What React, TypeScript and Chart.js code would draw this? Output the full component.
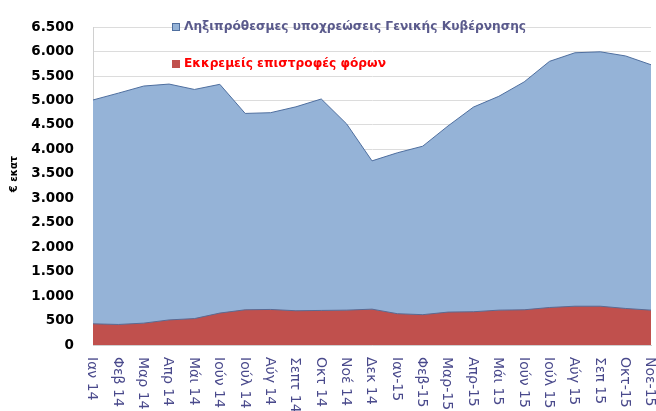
import React, { useEffect, useRef } from "react";
import { Chart, registerables } from "chart.js";

Chart.register(...registerables);

const categories: string[] = [
  "Ιαν 14", "Φεβ 14", "Μαρ 14", "Απρ 14", "Μάι 14", "Ιούν 14", "Ιούλ 14", "Αύγ 14",
  "Σεπτ 14", "Οκτ 14", "Νοέ 14", "Δεκ 14", "Ιαν-15", "Φεβ-15", "Μαρ-15", "Απρ-15",
  "Μάι 15", "Ιούν 15", "Ιούλ 15", "Αύγ 15", "Σεπ 15", "Οκτ-15", "Νοε-15",
];

const arrearsTotal: number[] = [
  5010, 5150, 5295, 5335, 5225, 5330, 4735, 4750, 4870, 5030, 4520, 3765,
  3930, 4065, 4480, 4865, 5085, 5380, 5800, 5975, 5995, 5910, 5730,
];

const taxRefunds: number[] = [
  433, 420, 447, 513, 540, 653, 720, 727, 700, 707, 713, 733,
  640, 620, 673, 680, 713, 720, 767, 793, 793, 747, 713,
];

const yTicks: number[] = [0, 500, 1000, 1500, 2000, 2500, 3000, 3500, 4000, 4500, 5000, 5500, 6000, 6500];

const legendLabels: string[] = [
  "Ληξιπρόθεσμες υποχρεώσεις Γενικής Κυβέρνησης",
  "Εκκρεμείς επιστροφές φόρων",
];

const yTitle = "€ εκατ";

const BLUE_FILL = "#95B3D7";
const BLUE_LINE = "#4F6F9F";
const RED_FILL = "#C0504D";

function fmt(v: number): string {
  const s = String(Math.round(v));
  return s.replace(/\B(?=(\d{3})+(?!\d))/g, ".");
}

const overlayPlugin = {
  id: "overlay",
  afterDraw(chart: any) {
    const ctx = chart.ctx as CanvasRenderingContext2D;
    const xs = chart.scales.x;
    const area = chart.chartArea;
    ctx.save();
    // x labels rotated clockwise, starting under the axis
    ctx.font = "14px 'DejaVu Sans'";
    ctx.fillStyle = "#4A4A8C";
    ctx.textAlign = "left";
    ctx.textBaseline = "middle";
    categories.forEach((lab, i) => {
      const x = xs.getPixelForValue(i);
      ctx.save();
      ctx.translate(x - 1, area.bottom + 12);
      ctx.rotate(Math.PI / 2);
      ctx.fillText(lab, 0, 0);
      ctx.restore();
    });
    // y title
    ctx.save();
    ctx.font = "bold 10px 'DejaVu Sans'";
    ctx.fillStyle = "#000";
    ctx.textAlign = "center";
    ctx.textBaseline = "middle";
    ctx.translate(14, 174);
    ctx.rotate(-Math.PI / 2);
    ctx.fillText(yTitle, 0, 0);
    ctx.restore();
    // legend
    const items = [
      { text: legendLabels[0], fill: BLUE_FILL, stroke: BLUE_LINE, color: "#5A5A8C", y: 27 },
      { text: legendLabels[1], fill: RED_FILL, stroke: RED_FILL, color: "#FF0000", y: 64 },
    ];
    ctx.font = "bold 12.2px 'DejaVu Sans'";
    ctx.textAlign = "left";
    ctx.textBaseline = "middle";
    items.forEach((it) => {
      ctx.fillStyle = it.fill;
      ctx.fillRect(172, it.y - 4, 8, 8);
      ctx.strokeStyle = it.stroke;
      ctx.lineWidth = 1;
      ctx.strokeRect(172.5, it.y - 3.5, 7, 7);
      ctx.fillStyle = it.color;
      ctx.fillText(it.text, 184, it.y);
    });
    ctx.restore();
  },
};

export default function App() {
  const ref = useRef<HTMLCanvasElement | null>(null);
  useEffect(() => {
    document.body.style.margin = "0";
    if (!ref.current) return;
    const chart = new Chart(ref.current, {
      type: "line",
      data: {
        labels: categories,
        datasets: [
          {
            label: legendLabels[1],
            data: taxRefunds,
            backgroundColor: RED_FILL,
            borderColor: "#5A6A92",
            borderWidth: 1,
            fill: "origin",
            pointRadius: 0,
            tension: 0,
            order: 1,
          },
          {
            label: legendLabels[0],
            data: arrearsTotal,
            backgroundColor: BLUE_FILL,
            borderColor: BLUE_LINE,
            borderWidth: 1,
            fill: "origin",
            pointRadius: 0,
            tension: 0,
            order: 2,
          },
        ],
      },
      options: {
        responsive: false,
        animation: false,
        layout: { padding: { left: 0, right: 5, top: 20, bottom: 66 } },
        plugins: {
          legend: { display: false },
          tooltip: { enabled: false },
        },
        scales: {
          x: {
            offset: false,
            ticks: { display: false },
            grid: { display: false, drawTicks: false },
            border: { display: true, color: "#D0D0D0" },
          },
          y: {
            min: 0,
            max: 6500,
            afterFit(scale: any) {
              scale.width = 93;
            },
            afterBuildTicks(scale: any) {
              scale.ticks = yTicks.map((v) => ({ value: v }));
            },
            ticks: {
              padding: 19,
              color: "#000",
              font: { family: "'DejaVu Sans'", size: 13.5, weight: "bold" },
              callback: (v: any) => fmt(Number(v)),
            },
            grid: { color: "#DCDCDC", drawTicks: false, lineWidth: 1 },
            border: { display: true, color: "#D0D0D0" },
          },
        },
      },
      plugins: [overlayPlugin],
    } as any);
    return () => chart.destroy();
  }, []);
  return (
    <div style={{ position: "absolute", left: 0, top: 0, width: 656, height: 411, background: "#fff" }}>
      <canvas ref={ref} width={656} height={411} />
    </div>
  );
}
